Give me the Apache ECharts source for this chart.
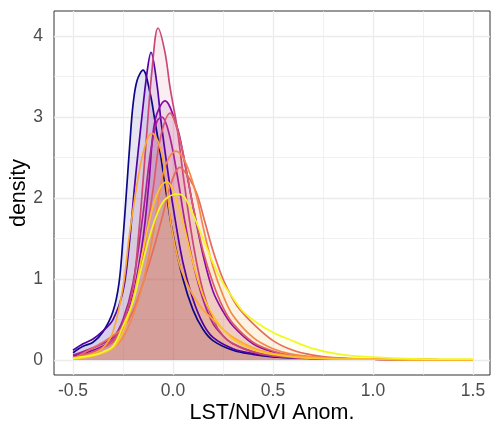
<!DOCTYPE html>
<html>
<head>
<meta charset="utf-8">
<script src="https://cdn.jsdelivr.net/npm/echarts@6/dist/echarts.min.js"></script>
<style>
  html, body { margin: 0; padding: 0; background: #fff; }
  #chart { width: 491px; height: 429px; }
</style>
</head>
<body>
<div id="chart"></div>
<script>
var xTicks = [-0.5, 0, 0.5, 1, 1.5]
var xMinor = [-0.25, 0.25, 0.75, 1.25]
var yTicks = [0, 1, 2, 3, 4]
var yMinor = [0.5, 1.5, 2.5, 3.5]

// density curves, [x, density]
var curve1 = [[-0.5,0.09],[-0.45,0.17],[-0.4,0.22],[-0.35,0.35],[-0.3,0.6],[-0.27,0.95],[-0.25,1.5],[-0.235,2.0],[-0.215,2.7],[-0.2,3.15],[-0.18,3.45],[-0.15,3.58],[-0.115,3.3],[-0.09,2.95],[-0.06,2.5],[-0.03,2.0],[0,1.55],[0.05,1.0],[0.1,0.62],[0.15,0.38],[0.2,0.24],[0.3,0.12],[0.4,0.07],[0.5,0.04],[0.7,0.02],[1.0,0.01],[1.5,0]]
var curve2 = [[-0.5,0.12],[-0.45,0.2],[-0.4,0.26],[-0.35,0.36],[-0.3,0.5],[-0.25,0.85],[-0.22,1.4],[-0.19,2.2],[-0.16,2.9],[-0.13,3.55],[-0.11,3.8],[-0.08,3.4],[-0.06,2.95],[-0.03,2.4],[0,1.9],[0.05,1.2],[0.1,0.75],[0.15,0.45],[0.2,0.28],[0.3,0.14],[0.4,0.08],[0.5,0.05],[0.7,0.02],[1.0,0.01],[1.5,0]]
var curve3 = [[-0.5,0.05],[-0.4,0.12],[-0.3,0.25],[-0.25,0.45],[-0.2,0.8],[-0.15,1.5],[-0.12,2.2],[-0.09,2.96],[-0.04,3.2],[0.02,2.88],[0.05,2.55],[0.1,1.9],[0.15,1.3],[0.2,0.85],[0.25,0.6],[0.3,0.42],[0.4,0.2],[0.5,0.1],[0.6,0.05],[0.8,0.02],[1.0,0.01],[1.5,0]]
var curve4 = [[-0.5,0.06],[-0.4,0.15],[-0.3,0.28],[-0.25,0.5],[-0.2,0.95],[-0.15,1.8],[-0.11,2.6],[-0.08,2.95],[-0.055,3.0],[-0.02,2.8],[0.02,2.3],[0.06,1.7],[0.1,1.2],[0.15,0.75],[0.2,0.45],[0.25,0.3],[0.3,0.2],[0.4,0.1],[0.5,0.05],[0.7,0.02],[1.0,0.01],[1.5,0]]
var curve5 = [[-0.5,0.03],[-0.4,0.1],[-0.3,0.25],[-0.25,0.45],[-0.2,0.9],[-0.17,1.6],[-0.15,2.2],[-0.13,2.84],[-0.105,3.58],[-0.075,4.1],[-0.04,3.8],[-0.015,3.37],[0.02,2.88],[0.05,2.3],[0.1,1.45],[0.15,0.85],[0.2,0.5],[0.25,0.3],[0.3,0.2],[0.4,0.1],[0.5,0.05],[0.7,0.02],[1.0,0.01],[1.5,0]]
var curve6 = [[-0.5,0.03],[-0.4,0.1],[-0.3,0.22],[-0.25,0.4],[-0.2,0.75],[-0.15,1.3],[-0.1,2.1],[-0.065,2.72],[-0.015,3.05],[0.035,2.72],[0.07,2.3],[0.1,1.9],[0.15,1.35],[0.2,0.95],[0.25,0.65],[0.3,0.45],[0.4,0.22],[0.5,0.11],[0.6,0.05],[0.8,0.02],[1.0,0.01],[1.5,0]]
var curve7 = [[-0.5,0.02],[-0.45,0.08],[-0.4,0.15],[-0.35,0.22],[-0.3,0.3],[-0.25,0.4],[-0.2,0.6],[-0.15,0.95],[-0.1,1.35],[-0.05,1.8],[-0.015,2.14],[0.035,2.38],[0.08,2.25],[0.12,2.05],[0.16,1.7],[0.2,1.35],[0.25,1.0],[0.3,0.75],[0.335,0.62],[0.4,0.45],[0.5,0.24],[0.6,0.12],[0.7,0.06],[0.8,0.03],[1.0,0.01],[1.5,0]]
var curve8 = [[-0.5,0.02],[-0.4,0.06],[-0.3,0.15],[-0.25,0.28],[-0.2,0.55],[-0.15,0.95],[-0.1,1.55],[-0.05,2.3],[-0.02,2.5],[0.015,2.58],[0.05,2.5],[0.085,2.3],[0.12,2.0],[0.15,1.65],[0.2,1.15],[0.25,0.8],[0.3,0.55],[0.4,0.28],[0.5,0.14],[0.6,0.07],[0.8,0.02],[1.0,0.01],[1.5,0]]
var curve9 = [[-0.5,0.02],[-0.4,0.08],[-0.35,0.15],[-0.3,0.35],[-0.25,0.9],[-0.215,1.6],[-0.165,2.38],[-0.13,2.72],[-0.105,2.8],[-0.075,2.7],[-0.05,2.47],[-0.03,2.1],[-0.005,1.6],[0.03,1.2],[0.06,1.0],[0.1,0.8],[0.15,0.62],[0.2,0.5],[0.25,0.38],[0.3,0.28],[0.4,0.15],[0.5,0.08],[0.7,0.03],[1.0,0.01],[1.5,0]]
var curve10 = [[-0.5,0.01],[-0.4,0.05],[-0.3,0.15],[-0.25,0.35],[-0.2,0.75],[-0.15,1.35],[-0.1,1.9],[-0.06,2.15],[-0.03,2.2],[0,2.1],[0.05,1.7],[0.1,1.2],[0.15,0.8],[0.2,0.55],[0.25,0.38],[0.3,0.26],[0.4,0.13],[0.5,0.07],[0.7,0.02],[1.0,0.01],[1.5,0]]
var curve11 = [[-0.5,0.02],[-0.4,0.06],[-0.35,0.1],[-0.3,0.17],[-0.25,0.42],[-0.2,0.72],[-0.165,1.07],[-0.12,1.5],[-0.08,1.8],[-0.04,1.98],[0.025,2.05],[0.06,2.0],[0.1,1.8],[0.15,1.5],[0.2,1.2],[0.25,0.95],[0.285,0.82],[0.35,0.6],[0.42,0.46],[0.5,0.34],[0.585,0.25],[0.7,0.14],[0.835,0.07],[1.0,0.035],[1.2,0.015],[1.5,0.01]]

var curves = [curve1, curve2, curve3, curve4, curve5, curve6, curve7, curve8, curve9, curve10, curve11]
var colors = ['#0d0887', '#5302a3', '#8b0aa5', '#a82296', '#cc4778', '#db5c68', '#e66c5c', '#f48849', '#fca636', '#fdc328', '#f0f921']
var fillAlpha = [0.1, 0.1, 0.1, 0.1, 0.09, 0.09, 0.08, 0.08, 0.07, 0.07, 0.07]

var chart = echarts.init(document.getElementById('chart'))

var gridLines = []
xTicks.forEach(function (v) { gridLines.push({xAxis: v, lineStyle: {width: 1.3}}) })
xMinor.forEach(function (v) { gridLines.push({xAxis: v, lineStyle: {width: 0.7}}) })
yTicks.forEach(function (v) { gridLines.push({yAxis: v, lineStyle: {width: 1.3}}) })
yMinor.forEach(function (v) { gridLines.push({yAxis: v, lineStyle: {width: 0.7}}) })

var series = [{
    type: 'line',
    data: [[-0.5, 0]],
    showSymbol: false,
    lineStyle: {opacity: 0},
    silent: true,
    z: 1,
    markLine: {
        silent: true,
        symbol: 'none',
        label: {show: false},
        animation: false,
        z: 1,
        lineStyle: {color: '#ebebeb', type: 'solid'},
        data: gridLines
    }
}]

curves.forEach(function (c, i) {
    series.push({
        type: 'line',
        data: c,
        smooth: 0.35,
        showSymbol: false,
        z: 3,
        lineStyle: {color: colors[i], width: 1.7},
        itemStyle: {color: colors[i]},
        areaStyle: {color: colors[i], opacity: fillAlpha[i]}
    })
})

var option = {
    animation: false,
    textStyle: {fontFamily: 'Liberation Sans'},
    grid: {
        left: 54,
        right: 1,
        top: 11,
        bottom: 54,
        outerBoundsMode: 'none',
        show: true,
        borderColor: '#333',
        borderWidth: 1,
        backgroundColor: '#fff'
    },
    xAxis: {
        type: 'value',
        min: -0.595,
        max: 1.585,
        name: 'LST/NDVI Anom.',
        nameLocation: 'middle',
        nameGap: 27,
        nameMoveOverlap: false,
        nameTextStyle: {fontSize: 21.5, color: '#000'},
        axisLine: {show: false},
        splitLine: {show: false},
        axisTick: {show: true, customValues: xTicks, length: 6, lineStyle: {color: '#333'}},
        axisLabel: {
            customValues: xTicks,
            fontSize: 17.5,
            color: '#4d4d4d',
            margin: 7,
            formatter: function (v) { return v.toFixed(1) }
        }
    },
    yAxis: {
        type: 'value',
        min: -0.185,
        max: 4.31,
        name: 'density',
        nameLocation: 'middle',
        nameGap: 24,
        nameMoveOverlap: false,
        nameTextStyle: {fontSize: 21.5, color: '#000'},
        axisLine: {show: false},
        splitLine: {show: false},
        axisTick: {show: true, customValues: yTicks, length: 6, lineStyle: {color: '#333'}},
        axisLabel: {
            customValues: yTicks,
            fontSize: 17.5,
            color: '#4d4d4d',
            margin: 11
        }
    },
    series: series
}

chart.setOption(option)
</script>
</body>
</html>
